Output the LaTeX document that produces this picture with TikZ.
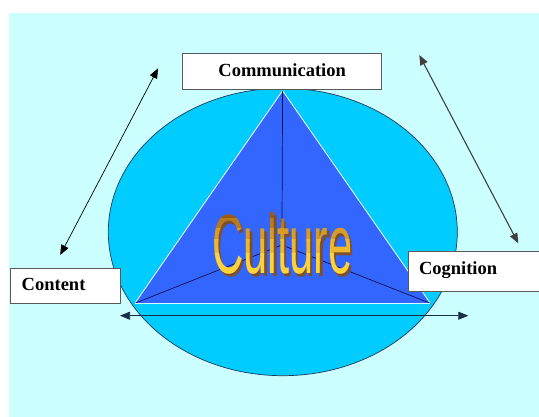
\documentclass[tikz,border=0pt]{standalone}
\usepackage{fontspec}
\setmainfont{Liberation Serif}
\newfontfamily\wafont{Liberation Sans}
\usetikzlibrary{arrows.meta,shapes.geometric}
\definecolor{bgc}{HTML}{CCFFFF}
\definecolor{ellc}{HTML}{00CCFF}
\definecolor{tric}{HTML}{3366FF}
\definecolor{edgec}{HTML}{1F3A5A}
\definecolor{innerc}{HTML}{0A1050}
\definecolor{gA}{HTML}{9A5A14}
\definecolor{gB}{HTML}{B87A1E}
\definecolor{gC}{HTML}{D89C26}
\definecolor{gD}{HTML}{EEB82E}
\definecolor{gE}{HTML}{FFD23A}
\definecolor{shadowc}{HTML}{7A5030}
\newcommand{\culturetext}{\resizebox{140pt}{61pt}{\wafont Culture}}
\begin{document}
\begin{tikzpicture}[x=1pt,y=-1pt,
  lbl/.style={draw=black!65, fill=white, line width=0.8pt, inner sep=0pt,
    font=\bfseries\fontsize{18.5}{20}\selectfont, text depth=0pt},
  arr/.style={{Triangle[length=10pt,width=8pt]}-{Triangle[length=10pt,width=8pt]}, line width=0.7pt},
  cult/.style={anchor=base west, inner sep=0pt}]
\useasboundingbox (0,0) rectangle (539,417);
\fill[bgc] (8.6,13.5) rectangle (539,417);
% ellipse
\node[ellipse, draw=edgec, fill=ellc, line width=0.7pt, minimum width=349pt, minimum height=287.4pt, inner sep=0pt] (circ) at (282.8,232) {};
% triangle
\coordinate (A) at (282.6,90.7);
\coordinate (BL) at (134.8,303.3);
\coordinate (BR) at (430.4,303.3);
\coordinate (M) at (281.9,245);
\fill[tric] (A) -- (BL) -- (BR) -- cycle;
\draw[white!85!bgc, line width=0.8pt] (BL) -- (A) -- (BR);
\draw[innerc, line width=0.7pt] (A) -- (M) (BL) -- (M) -- (BR);
\draw[bgc!70!white, line width=1.3pt] (BL) -- (BR);
% Culture word art
\node[cult, text=shadowc] (cultsh) at (214.5,277) {\culturetext};
\foreach \ya/\yb/\cc [count=\k] in {205/219/gA, 219/229/gB, 229/240/gC, 240/254/gD, 254/285/gE}{
  \begin{scope}
    \clip (200,\ya) rectangle (370,\yb+0.4);
    \node[cult, text=\cc] (cult\k) at (212,273) {\culturetext};
  \end{scope}
}
% label boxes
\node[lbl, minimum width=199pt, minimum height=36pt, text height=10.8pt] (comm) at (282.2,71.3) {Communication};
\node[lbl, minimum width=110pt, minimum height=35pt, text width=88pt, align=left, text height=9.8pt] (cont) at (65.7,285.8) {Content};
\node[lbl, minimum width=140pt, minimum height=40pt, text width=118pt, align=left, text height=5.2pt] (cogn) at (478,271.7) {Cognition};
% arrows
\coordinate (la1) at (158.1,68.3);
\coordinate (la2) at (60.2,255);
\coordinate (ra1) at (419.3,55);
\coordinate (ra2) at (518.3,243.3);
\coordinate (ba1) at (120,315.7);
\coordinate (ba2) at (468.3,315.7);
\draw[arr, black] (la1) -- (la2);
\draw[arr, black!75, line width=1.1pt] (ra1) -- (ra2);
\draw[arr, draw=edgec!80!black, fill=black] (ba1) -- (ba2);
\end{tikzpicture}
\end{document}
